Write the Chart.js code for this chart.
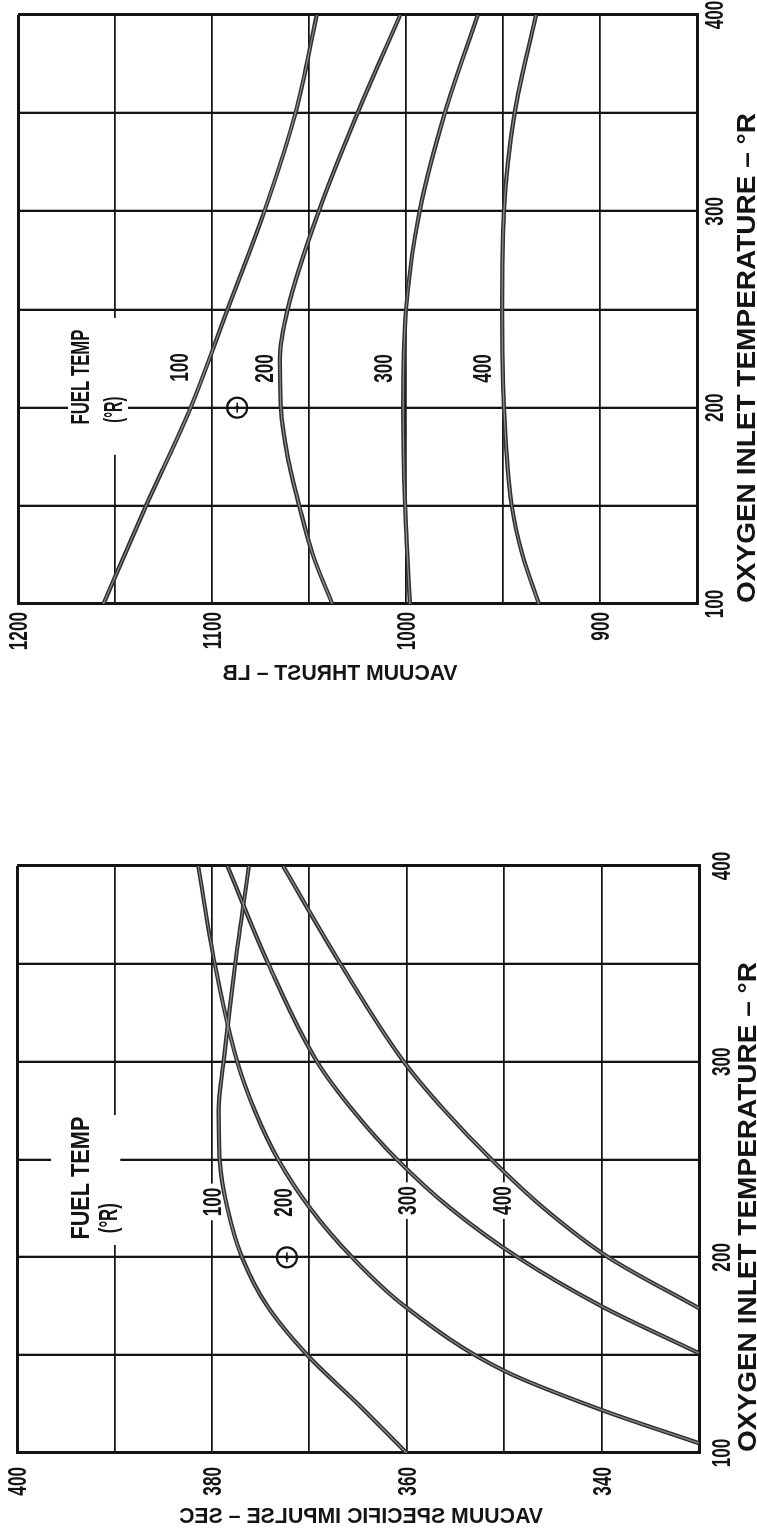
<!DOCTYPE html>
<html>
<head>
<meta charset="utf-8">
<script src="https://cdn.jsdelivr.net/npm/chart.js@4.4.1/dist/chart.umd.min.js"></script>
<style>
  html, body { margin: 0; padding: 0; background: #fff; }
  body { width: 757px; height: 1534px; position: relative; overflow: hidden; }
  canvas { position: absolute; left: 0; transform-origin: 0 0; }
  /* both panels are laid out landscape and turned a quarter turn counter-clockwise */
  #thrustChart { top: 0; transform: translate(0px, 720px) rotate(-90deg); }
  #impulseChart { top: 800px; transform: translate(0px, 734px) rotate(-90deg); }
</style>
</head>
<body>
<canvas id="thrustChart" width="720" height="757"></canvas>
<canvas id="impulseChart" width="734" height="757"></canvas>
<script>
// ---- axis ticks ----
const oxygenTicks = [100, 200, 300, 400];
const thrustTicks = [900, 1000, 1100, 1200];
const impulseTicks = [340, 360, 380, 400];
const fuelTempNames = ['100', '200', '300', '400'];

// ---- vacuum thrust (lb) vs oxygen inlet temperature (°R), one curve per fuel temp ----
const thrustO2T_100 = [100, 150, 200, 250, 300, 350, 400];
const thrustLb_100  = [1156, 1134, 1111, 1092, 1073, 1057, 1046];
const thrustO2T_200 = [100, 125, 150, 175, 200, 225, 250, 300, 350, 400];
const thrustLb_200  = [1038, 1048, 1055, 1061, 1064.5, 1065, 1061, 1045, 1025, 1003];
const thrustO2T_300 = [100, 150, 200, 250, 300, 350, 400];
const thrustLb_300  = [998, 1000.5, 1001.5, 1000, 993, 980, 963];
const thrustO2T_400 = [100, 125, 150, 200, 250, 300, 350, 400];
const thrustLb_400  = [931.5, 940, 945.5, 949.5, 950.5, 949.5, 944, 933];

// ---- vacuum specific impulse (sec) vs oxygen inlet temperature (°R) ----
const ispO2T_100 = [100, 125, 150, 175, 200, 225, 250, 275, 300, 350, 400];
const ispSec_100 = [360.0, 365.0, 370.2, 374.3, 376.9, 378.4, 379.2, 379.3, 378.8, 377.6, 376.2];
const ispO2T_200 = [105, 122, 142, 175, 200, 225, 250, 275, 300, 350, 400];
const ispSec_200 = [330, 340, 350, 360.2, 365.6, 369.9, 373.2, 375.6, 377.4, 379.7, 381.4];
const ispO2T_300 = [151, 175, 200, 225, 250, 275, 300, 350, 400];
const ispSec_300 = [330, 340.0, 348.6, 355.5, 361.0, 365.5, 369.2, 374.2, 378.4];
const ispO2T_400 = [174, 200, 225, 250, 275, 300, 350, 400];
const ispSec_400 = [330, 339.3, 345.9, 351.3, 356.1, 360.3, 366.8, 372.7];

// ---- design point ----
const designO2T = [200];
const designThrust = [1087];
const designIsp = [372.3];

const FONT = '"Liberation Sans", Arial, Helvetica, sans-serif';
const CAP = 0.69; // cap height / font size
const INK = '#141414';

function pts(xs, ys) { return xs.map((x, i) => ({ x, y: ys[i] })); }

// horizontal text, optionally squeezed (sx) or fitted to a width
function drawText(ctx, text, x, baseline, o) {
  ctx.save();
  ctx.font = `${o.weight || 'bold'} ${o.size}px ${FONT}`;
  ctx.textAlign = o.align || 'left';
  ctx.textBaseline = 'alphabetic';
  const sx = o.width ? o.width / ctx.measureText(text).width : (o.sx || 1);
  ctx.translate(x, baseline);
  ctx.scale(sx, 1);
  ctx.fillText(text, 0, 0);
  ctx.restore();
  return sx;
}

// mirrored vertical title (reads right-to-left once the panel is turned)
function drawMirrored(ctx, text, baseU, centerV, o) {
  ctx.save();
  ctx.font = `${o.weight || 'bold'} ${o.size}px ${FONT}`;
  ctx.textAlign = 'center';
  ctx.textBaseline = 'alphabetic';
  ctx.transform(0, -1, -1, 0, baseU, centerV);
  const sx = o.width ? o.width / ctx.measureText(text).width : (o.sx || 1);
  ctx.scale(sx, 1);
  ctx.fillText(text, 0, 0);
  ctx.restore();
}

function textPlugin(spec) {
  return {
    id: 'panelText',
    beforeDatasetsDraw(chart) {
      const { ctx, scales: { x, y } } = chart;
      ctx.save();
      ctx.fillStyle = '#fff';
      // clear the grid behind the legend block
      const k = spec.legendBox;
      const u1 = x.getPixelForValue(k.t0), u2 = x.getPixelForValue(k.t1);
      const v1 = y.getPixelForValue(k.v0), v2 = y.getPixelForValue(k.v1);
      ctx.fillRect(Math.min(u1, u2), Math.min(v1, v2), Math.abs(u2 - u1), Math.abs(v2 - v1));
      // clear the grid behind each curve name
      ctx.font = `bold ${spec.nameSize}px ${FONT}`;
      spec.names.forEach((n, i) => {
        const u = x.getPixelForValue(n.t), v = y.getPixelForValue(n.v);
        const w = ctx.measureText(fuelTempNames[i]).width * spec.nameSx;
        const h = spec.nameSize * CAP;
        ctx.fillRect(u - w / 2 - 4, v - h / 2 - 4, w + 8, h + 8);
      });
      ctx.restore();
    },
    afterDraw(chart) {
      const { ctx, chartArea: a, scales: { x, y } } = chart;
      ctx.save();
      ctx.fillStyle = INK;
      const ts = spec.tickSize, cap = ts * CAP;
      oxygenTicks.forEach(t => {
        drawText(ctx, String(t), x.getPixelForValue(t), a.bottom + spec.xTickGap + cap, { size: ts, sx: spec.tickSx, align: 'center' });
      });
      spec.yTicks.forEach(t => {
        drawText(ctx, String(t), a.left - spec.yTickGap, y.getPixelForValue(t) + cap / 2, { size: ts, sx: spec.tickSx, align: 'right' });
      });
      // oxygen temperature title
      drawText(ctx, 'OXYGEN INLET TEMPERATURE \u2013 \u00B0R', a.left + 1, spec.xTitleBase, { size: spec.xTitleSize, width: spec.xTitleWidth });
      // value title
      drawMirrored(ctx, spec.yTitle, spec.yTitleBase, spec.yTitleCenter, { size: spec.yTitleSize, width: spec.yTitleWidth });
      // curve names
      const nc = spec.nameSize * CAP;
      spec.names.forEach((n, i) => {
        drawText(ctx, fuelTempNames[i], x.getPixelForValue(n.t), y.getPixelForValue(n.v) + nc / 2, { size: spec.nameSize, sx: spec.nameSx, align: 'center' });
      });
      // legend heading
      const L = spec.legend;
      drawText(ctx, 'FUEL TEMP', x.getPixelForValue(L.line1.t), y.getPixelForValue(L.line1.v) + nc / 2, { size: spec.nameSize, width: L.line1.width, align: 'center' });
      drawText(ctx, '(\u00B0R)', x.getPixelForValue(L.line2.t), y.getPixelForValue(L.line2.v) + nc / 2, { size: spec.nameSize, width: L.line2.width, align: 'center' });
      ctx.restore();
    }
  };
}

function buildPanel(canvasId, spec) {
  const datasets = [];
  spec.series.forEach(s => {
    const data = pts(s.t, s.v);
    datasets.push({ data, borderColor: '#8e8e8e', borderWidth: 1.2, pointRadius: 0, cubicInterpolationMode: 'monotone', order: 1 });
    datasets.push({ data, borderColor: '#303030', borderWidth: 4.2, pointRadius: 0, cubicInterpolationMode: 'monotone', order: 2 });
  });
  const mark = pts(designO2T, spec.mark);
  datasets.push({ data: mark, showLine: false, pointStyle: 'circle', pointRadius: 10, pointBorderWidth: 2.2, pointBorderColor: INK, pointBackgroundColor: 'rgba(255,255,255,0)', order: 0 });
  datasets.push({ data: mark, showLine: false, pointStyle: 'line', pointRadius: 5, pointBorderWidth: 1.6, pointBorderColor: INK, order: 0 });
  datasets.push({ data: mark, showLine: false, pointStyle: 'circle', pointRadius: 2, pointBorderWidth: 0, pointBackgroundColor: INK, order: 0 });

  const edge = (min, max, inner) => c => (c.tick && (c.tick.value === min || c.tick.value === max)) ? 3 : inner;

  return new Chart(document.getElementById(canvasId), {
    type: 'line',
    data: { datasets },
    options: {
      responsive: false,
      animation: false,
      devicePixelRatio: 1,
      layout: { padding: spec.padding },
      plugins: { legend: { display: false }, tooltip: { enabled: false } },
      scales: {
        x: {
          type: 'linear', min: 100, max: 400,
          ticks: { display: false, stepSize: 50 },
          grid: { color: INK, lineWidth: edge(100, 400, 2.3), drawTicks: false },
          border: { display: true, color: INK, width: 3 },
          afterFit: s => { s.height = spec.xAxisSize; }
        },
        y: {
          type: 'linear', min: spec.yMin, max: spec.yMax,
          ticks: { display: false, stepSize: spec.yStep },
          grid: { color: INK, lineWidth: edge(spec.yMin, spec.yMax, 1.7), drawTicks: false },
          border: { display: true, color: INK, width: 3 },
          afterFit: s => { s.width = spec.yAxisSize; }
        }
      }
    },
    plugins: [textPlugin(spec)]
  });
}

buildPanel('thrustChart', {
  yMin: 850, yMax: 1200, yStep: 50, yTicks: thrustTicks,
  padding: { left: 0, right: 15, top: 18, bottom: 0 },
  yAxisSize: 116, xAxisSize: 60,
  series: [
    { t: thrustO2T_100, v: thrustLb_100 },
    { t: thrustO2T_200, v: thrustLb_200 },
    { t: thrustO2T_300, v: thrustLb_300 },
    { t: thrustO2T_400, v: thrustLb_400 }
  ],
  mark: designThrust,
  tickSize: 26, tickSx: 0.66, xTickGap: 8, yTickGap: 8,
  xTitleBase: 755, xTitleSize: 25, xTitleWidth: 490,
  yTitle: 'VACUUM THRUST \u2013 LB', yTitleBase: 40, yTitleCenter: 340, yTitleSize: 22, yTitleWidth: 235,
  nameSize: 26, nameSx: 0.66,
  names: [{ t: 220.5, v: 1117 }, { t: 220, v: 1073 }, { t: 220, v: 1012 }, { t: 220, v: 961 }],
  legend: { line1: { t: 215.6, v: 1168, width: 95 }, line2: { t: 199, v: 1151, width: 26 } },
  legendBox: { t0: 176, t1: 245.7, v0: 1174.2, v1: 1143.3 }
});

buildPanel('impulseChart', {
  yMin: 330, yMax: 400, yStep: 10, yTicks: impulseTicks,
  padding: { left: 0, right: 66, top: 17, bottom: 0 },
  yAxisSize: 81, xAxisSize: 58,
  series: [
    { t: ispO2T_100, v: ispSec_100 },
    { t: ispO2T_200, v: ispSec_200 },
    { t: ispO2T_300, v: ispSec_300 },
    { t: ispO2T_400, v: ispSec_400 }
  ],
  mark: designIsp,
  tickSize: 26, tickSx: 0.66, xTickGap: 13, yTickGap: 14,
  xTitleBase: 756, xTitleSize: 25, xTitleWidth: 490,
  yTitle: 'VACUUM SPECIFIC IMPULSE \u2013 SEC', yTitleBase: 11, yTitleCenter: 361, yTitleSize: 22, yTitleWidth: 364,
  nameSize: 26, nameSx: 0.66,
  names: [{ t: 228.3, v: 380.0 }, { t: 228, v: 372.7 }, { t: 229, v: 360.0 }, { t: 229, v: 350.2 }],
  legend: { line1: { t: 240.5, v: 393.5, width: 123 }, line2: { t: 220, v: 390.7, width: 30 } },
  legendBox: { t0: 206.3, t1: 272.7, v0: 396.5, v1: 389.4 }
});
</script>
</body>
</html>
